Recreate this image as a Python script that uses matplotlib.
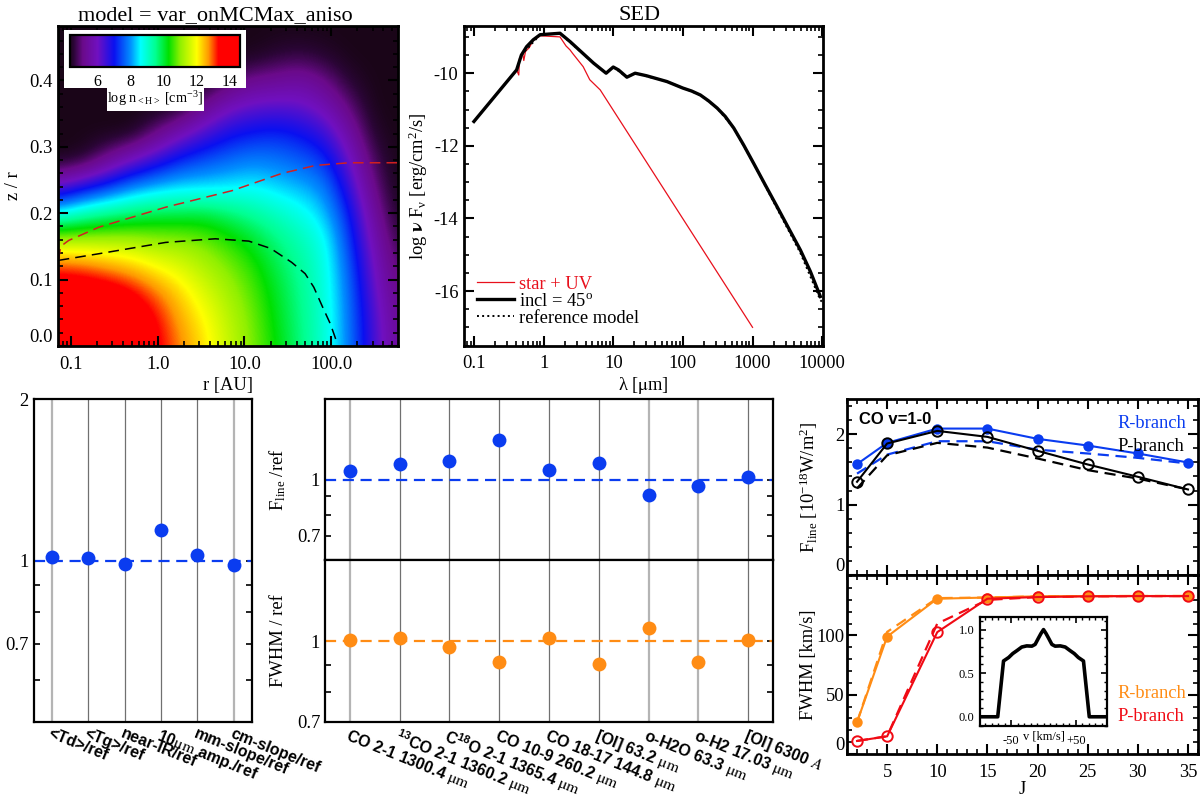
import numpy as np
import matplotlib
matplotlib.use('Agg')
import matplotlib.pyplot as plt
from matplotlib.colors import LinearSegmentedColormap, Normalize
from matplotlib.ticker import NullFormatter, MultipleLocator, LogLocator

plt.rcParams['font.family'] = ['Liberation Serif', 'DejaVu Serif']
plt.rcParams['mathtext.fontset'] = 'stix'
plt.rcParams['mathtext.default'] = 'regular'

W, H = 1200, 799

# density table (log n), rows = z/r from .00 to .48 in steps of .04,
# columns = log r from -1.15 to 2.77 in steps of .28
log_r_range = (-1.15, 2.77)
z_r_range = (0, 0.48)
log_n = [
    [14.8, 14.7, 14.6, 14.1, 13.5, 12.8, 12.2, 11.5, 10.9, 10.3, 9.6, 8.95, 7.85, 6.45, 5.3],
    [14.4, 14.3, 14.2, 13.9, 13.4, 12.6, 12.05, 11.4, 10.85, 10.2, 9.55, 8.95, 7.8, 6.4, 5.2],
    [14.0, 13.9, 13.8, 13.5, 12.9, 12.3, 11.7, 11.2, 10.7, 10.1, 9.5, 8.9, 7.75, 6.2, 5.05],
    [13.1, 13.0, 12.7, 12.4, 12.0, 11.7, 11.3, 10.9, 10.5, 9.9, 9.4, 8.85, 7.6, 6.0, 4.85],
    [11.2, 11.2, 11.2, 11.2, 11.0, 11.0, 10.8, 10.5, 10.1, 9.6, 9.2, 8.75, 7.35, 5.75, 4.6],
    [8.7, 9.2, 9.5, 9.7, 9.9, 9.9, 10.0, 9.7, 9.4, 9.1, 8.8, 8.3, 7.1, 5.4, 4.4],
    [6.1, 6.8, 7.3, 7.9, 8.2, 8.4, 8.4, 8.5, 8.6, 8.4, 8.2, 7.9, 6.6, 5.05, 4.3],
    [4.3, 4.4, 5.2, 6.0, 6.6, 7.2, 7.5, 7.7, 7.9, 7.8, 7.6, 7.3, 6.1, 4.75, 4.3],
    [4.3, 4.3, 4.3, 4.3, 5.0, 5.8, 6.4, 6.9, 7.1, 7.2, 7.0, 6.6, 5.55, 4.45, 4.3],
    [4.3, 4.3, 4.3, 4.3, 4.3, 4.4, 5.2, 5.9, 6.2, 6.3, 6.2, 5.8, 5.0, 4.3, 4.3],
    [4.3, 4.3, 4.3, 4.3, 4.3, 4.3, 4.3, 4.8, 5.2, 5.3, 5.5, 5.1, 4.5, 4.3, 4.3],
    [4.3, 4.3, 4.3, 4.3, 4.3, 4.3, 4.3, 4.3, 4.3, 4.5, 4.6, 4.45, 4.3, 4.3, 4.3],
    [4.3, 4.3, 4.3, 4.3, 4.3, 4.3, 4.3, 4.3, 4.3, 4.3, 4.3, 4.3, 4.3, 4.3, 4.3],
]
cmap_vals = [4.3, 4.55, 5.1, 6.0, 7.0, 8.0, 8.6, 9.5, 10.3, 11.0, 12.0, 12.7, 13.3, 14.6]
cmap_cols = ['#1a0518', '#2a0535', '#6a0a8a', '#7010c0', '#0a10f0', '#0090ff', '#00ffff',
             '#00ff90', '#00e000', '#90f000', '#ffff00', '#ff9900', '#ff0000', '#ff0000']

black_r = [0.072, 0.21, 1.23, 4.6, 11.2, 20, 35, 50, 63, 80, 98, 118]
black_z = [.129, .139, .156, .1615, .158, .147, .126, .109, .0885, .058, .033, .003]
red_r = [0.072, 0.076, 0.094, 0.21, 1.23, 7.2, 27, 66, 160, 590]
red_z = [.13, .15, .159, .179, .209, .234, .26, .272, .276, .276]

# SED
sed_lam = [0.1, 0.41, 0.48, 0.57, 0.71, 0.89, 1.72, 2.4, 5.2, 7.9, 10, 11.9, 15.7, 20.6, 30, 59, 100, 133, 178,
           233, 310, 405, 537, 741, 1035, 1524, 2240, 3296, 4860, 6761, 9400]
sed_val = [-11.33, -9.91, -9.5, -9.27, -9.08, -8.94, -8.9, -9.13, -9.72, -10, -9.83, -9.91, -10.11, -10, -10.07,
           -10.23, -10.41, -10.49, -10.6, -10.76, -10.96, -11.19, -11.51, -11.97, -12.48, -13.08, -13.67,
           -14.27, -14.87, -15.46, -16.15]
star_lam = [0.1, 0.41, 0.44, 0.45, 0.5, 0.52, 0.55, 0.62, 0.71, 0.89, 1.72, 2.1, 2.4, 2.6, 3.7, 4.6, 6.5, 1000]
star_val = [-11.33, -9.91, -10.05, -9.6, -9.45, -9.65, -9.4, -9.3, -9.1, -8.97, -9.0, -9.25, -9.36, -9.45,
            -9.82, -10.18, -10.46, -17.0]
ref_lam = [0.1, 0.41, 0.48, 0.89, 1.72, 5.2, 7.9, 10, 15.7, 20.6, 59, 178, 310, 537, 1035, 2240, 4860, 9400, 10000]
ref_val = [-11.33, -9.91, -9.5, -8.94, -8.9, -9.72, -10, -9.83, -10.11, -10, -10.23, -10.6, -10.96, -11.51, -12.48,
           -13.72, -14.95, -16.25, -16.3]

# ratio panels
sed_names = ['<Td>/ref', '<Tg>/ref', 'near-IR/ref', r'10$\mathrm{\mu m}$ amp./ref', 'mm-slope/ref', 'cm-slope/ref']
sed_ratio = [1.017, 1.012, 0.983, 1.141, 1.026, 0.98]
line_names = [r'CO 2-1 1300.4 $\mathrm{\mu m}$', r'$^{13}$CO 2-1 1360.2 $\mathrm{\mu m}$',
              r'C$^{18}$O 2-1 1365.4 $\mathrm{\mu m}$', r'CO 10-9 260.2 $\mathrm{\mu m}$',
              r'CO 18-17 144.8 $\mathrm{\mu m}$', r'[OI] 63.2 $\mathrm{\mu m}$',
              r'o-H2O 63.3 $\mathrm{\mu m}$', r'o-H2 17.03 $\mathrm{\mu m}$', r'[OI] 6300 $\mathit{A}$']
fline_ratio = [1.055, 1.103, 1.124, 1.285, 1.061, 1.112, 0.907, 0.960, 1.013]
fwhm_ratio = [1.007, 1.013, 0.975, 0.913, 1.012, 0.904, 1.061, 0.913, 1.004]

# CO ladder
J = [2, 5, 10, 15, 20, 25, 30, 35]
flux_R = [1.575, 1.877, 2.08, 2.08, 1.934, 1.839, 1.726, 1.598]
flux_P = [1.324, 1.868, 2.047, 1.962, 1.764, 1.57, 1.395, 1.215]
flux_R_ref = [1.44, 1.71, 1.90, 1.90, 1.78, 1.726, 1.664, 1.584]
flux_P_ref = [1.23, 1.70, 1.877, 1.81, 1.655, 1.49, 1.37, 1.215]
fwhm_R = [26.8, 99, 131, 132, 133, 133.2, 133.3, 133.3]
fwhm_P = [11, 14.9, 102.8, 131, 132.4, 133, 133.2, 133.2]
fwhm_R_ref = [26.8, 103, 131.5, 132, 133, 133.2, 133.3, 133.3]
fwhm_P_ref = [11, 15, 110, 130, 132.4, 133, 133.2, 133.2]

prof_v = [-98, -71, -62, -54, -47.7, -41, -33.7, -26, -18, -13, -8, -4, 0, 4, 8, 13, 18, 26, 33.7, 41, 47.7, 54, 62, 71, 98]
prof_f = [0, 0, .64, .68, .725, .76, .80, .813, .81, .83, .9, .954, 1.0, .954, .9, .83, .81, .813, .80, .76, .725, .68, .64, 0, 0]

BLUE = '#0a3cf0'
ORANGE = '#ff8c14'
RED = '#f00a14'
FS = 13.3


def px_axes(fig, l, t, r, b, **kw):
    return fig.add_axes([l / W, 1 - b / H, (r - l) / W, (b - t) / H], **kw)


def idl_ticks(ax, lw=2.0, ypad=4):
    for s in ax.spines.values():
        s.set_linewidth(lw)
    ax.tick_params(which='major', direction='in', top=True, right=True, length=7, width=1.5, labelsize=FS)
    ax.tick_params(which='minor', direction='in', top=True, right=True, length=3.5, width=1.2)
    ax.tick_params(axis='x', which='major', pad=7)
    ax.tick_params(axis='y', which='major', pad=ypad)


def ratio_ticks(ax, lw=1.6):
    for s in ax.spines.values():
        s.set_linewidth(lw)
    ax.set_yscale('log')
    ax.tick_params(which='both', direction='in', left=True, right=True, length=4, width=1.2, labelsize=FS)
    ax.xaxis.set_tick_params(length=0)
    ax.yaxis.set_major_formatter(NullFormatter())
    ax.yaxis.set_minor_formatter(NullFormatter())


def ratio_points(ax, vals, col, thick):
    xs = np.arange(1, len(vals) + 1)
    for x in xs:
        if x in thick:
            ax.axvline(x, color='#b4b4b4', lw=1.6, zorder=1)
        else:
            ax.axvline(x, color='#707070', lw=0.9, zorder=1)
    ax.axhline(1, color=col, lw=1.6, dashes=(5, 3), zorder=2)
    ax.plot(xs, vals, 'o', color=col, ms=10, mew=0, zorder=3)
    ax.set_xlim(0.5, len(vals) + 0.5)


def rot_labels(ax, names):
    ax.set_xticks(np.arange(1, len(names) + 1))
    ax.set_xticklabels(names, rotation=-22, ha='left', va='top', rotation_mode='anchor',
                       family=['Liberation Sans'], fontweight='bold', fontsize=11.5)
    ax.tick_params(axis='x', pad=3)


def main():
    fig = plt.figure(figsize=(W / 100, H / 100), dpi=100)

    # density panel, image goes on its own axes in log r so it can be smoothed
    img = px_axes(fig, 58, 26, 398, 346)
    cmap = LinearSegmentedColormap.from_list(
        'dens', [((v - 4.3) / (14.6 - 4.3), c) for v, c in zip(cmap_vals, cmap_cols)], N=512)
    norm = Normalize(4.3, 14.6)
    img.imshow(np.array(log_n), origin='lower', aspect='auto', cmap=cmap, norm=norm, interpolation='bicubic',
               extent=[log_r_range[0] - 0.14, log_r_range[1] + 0.14, z_r_range[0] - 0.02, z_r_range[1] + 0.02])
    img.set_xlim(-1.15, 2.77)
    img.set_ylim(0, 0.482)
    img.axis('off')

    ax = px_axes(fig, 58, 26, 398, 346, facecolor='none')
    ax.plot(red_r, red_z, color='#d02020', lw=1.1, dashes=(7, 4))
    ax.plot(black_r, black_z, color='k', lw=1.1, dashes=(7, 4))
    ax.set_xscale('log')
    ax.set_xlim(10 ** -1.15, 10 ** 2.77)
    ax.set_ylim(0, 0.482)
    ax.set_xticks([0.1, 1, 10, 100])
    ax.set_xticklabels(['0.1', '1.0', '10.0', '100.0'])
    ax.set_yticks([0, .1, .2, .3, .4])
    ax.set_yticklabels(['0.0', '0.1', '0.2', '0.3', '0.4'])
    ax.yaxis.set_minor_locator(MultipleLocator(0.02))
    ax.xaxis.set_minor_locator(LogLocator(10, subs=np.arange(2, 10) * 0.1, numticks=12))
    ax.xaxis.set_minor_formatter(NullFormatter())
    idl_ticks(ax)
    ax.get_yticklabels()[0].set_va('bottom')
    ax.set_xlabel('r [AU]', fontsize=FS, labelpad=3)
    ax.set_ylabel('z / r', fontsize=FS, labelpad=5)
    ax.set_title('model = var_onMCMax_aniso', fontsize=16, pad=4, x=(215 - 58) / 340)

    # white boxes behind the colour bar
    for box in [(64, 30, 246, 87.5), (107, 87, 203.5, 110.5)]:
        bg = px_axes(fig, *box, facecolor='white')
        bg.set_xticks([])
        bg.set_yticks([])
        for s in bg.spines.values():
            s.set_visible(False)
    cax = px_axes(fig, 69.5, 34.5, 240, 67)
    cb = fig.colorbar(plt.cm.ScalarMappable(norm=norm, cmap=cmap), cax=cax, orientation='horizontal',
                      ticks=[6, 8, 10, 12, 14])
    cb.outline.set_linewidth(1.6)
    cax.tick_params(length=0, labelsize=11.5, pad=5)
    fig.text(155 / W, 1 - 99 / H, r'log n$_{<H>}$ [cm$^{-3}$]', fontsize=10.3, ha='center', va='center')

    # SED panel
    ax = px_axes(fig, 464, 26, 822.5, 345.5)
    ax.plot(star_lam, star_val, color='#e8101c', lw=0.9, label='star + UV')
    ax.plot(sed_lam, sed_val, color='k', lw=2.4, label=r'incl = 45$^{o}$')
    ax.plot(ref_lam, ref_val, color='k', lw=1.4, ls=':', label='reference model')
    ax.set_xscale('log')
    ax.set_xlim(0.072, 10100)
    ax.set_ylim(-17.5, -8.7)
    ax.set_xticks([0.1, 1, 10, 100, 1000, 10000])
    ax.set_xticklabels(['0.1', '1', '10', '100', '1000', '10000'])
    ax.set_yticks([-10, -12, -14, -16])
    ax.set_yticklabels(['-10', '-12', '-14', '-16'])
    ax.yaxis.set_minor_locator(MultipleLocator(0.5))
    ax.xaxis.set_minor_locator(LogLocator(10, subs=np.arange(2, 10) * 0.1, numticks=12))
    ax.xaxis.set_minor_formatter(NullFormatter())
    idl_ticks(ax)
    ax.set_xlabel(r'$\lambda$ [$\mathrm{\mu}$m]', fontsize=FS, labelpad=2)
    ax.set_ylabel(r'log $\mathbf{\nu}$ F$_{\nu}$ [erg/cm$^{2}$/s]', fontsize=FS, labelpad=3)
    ax.set_title('SED', fontsize=16, pad=4, x=(640 - 464) / 358.5)
    ax.legend(loc='lower left', bbox_to_anchor=(0.0, 0.018), frameon=False, fontsize=FS, handlelength=2.0,
              labelcolor=['#e8101c', 'k', 'k'], labelspacing=0.0, handletextpad=0.3, borderaxespad=0.5, borderpad=0.2)

    # SED ratios
    ax = px_axes(fig, 33.5, 399, 252, 722)
    ratio_ticks(ax)
    ratio_points(ax, sed_ratio, BLUE, [1, 6])
    ax.set_ylim(0.5, 2)
    ax.set_yticks([2, 1, 0.7], ['2', '1', '0.7'])
    ax.set_yticks([0.9, 0.8, 0.6], minor=True)
    ax.yaxis.set_minor_formatter(NullFormatter())
    rot_labels(ax, sed_names)

    # line ratios
    ax = px_axes(fig, 325, 399, 773, 560)
    ratio_ticks(ax)
    ratio_points(ax, fline_ratio, BLUE, [1, 7, 8])
    ax.set_ylim(0.6, 1.667)
    ax.set_yticks([1, 0.7], ['1', '0.7'])
    ax.set_yticks([0.9, 0.8], minor=True)
    ax.yaxis.set_minor_formatter(NullFormatter())
    ax.set_xticks([])
    ax.set_ylabel(r'F$_{line}$ /ref', fontsize=FS, labelpad=6)

    ax = px_axes(fig, 325, 560, 773, 722)
    ratio_ticks(ax)
    ratio_points(ax, fwhm_ratio, ORANGE, [1, 7, 8])
    ax.set_ylim(0.7, 1.43)
    ax.set_yticks([1, 0.7], ['1', '0.7'])
    ax.set_yticks([0.9, 0.8], minor=True)
    ax.yaxis.set_minor_formatter(NullFormatter())
    ax.set_ylabel('FWHM / ref', fontsize=FS, labelpad=7)
    rot_labels(ax, line_names)

    # CO ladder, flux
    ax = px_axes(fig, 847, 399, 1198, 575)
    ax.plot(J, flux_R_ref, color=BLUE, lw=1.6, dashes=(5, 3))
    ax.plot(J, flux_P_ref, color='k', lw=1.6, dashes=(5, 3))
    ax.plot(J, flux_R, '-o', color=BLUE, lw=1.5, ms=7.5, mew=0)
    ax.plot(J, flux_P, '-o', color='k', lw=1.5, ms=7.5, mew=1.4, mfc='none')
    ax.set_xlim(1, 36)
    ax.set_ylim(0, 2.5)
    ax.set_xticks([5, 10, 15, 20, 25, 30, 35])
    ax.set_xticklabels([])
    ax.set_yticks([0, 1, 2])
    ax.xaxis.set_minor_locator(MultipleLocator(1))
    ax.yaxis.set_minor_locator(MultipleLocator(0.2))
    idl_ticks(ax, ypad=2)
    ax.get_yticklabels()[0].set_va('bottom')
    ax.set_ylabel(r'F$_{line}$ [10$^{-18}$W/m$^{2}$]', fontsize=FS, labelpad=11)
    ax.text(0.035, 0.885, 'CO v=1-0', transform=ax.transAxes, family=['Liberation Sans'], fontweight='bold',
            fontsize=12, va='center')
    ax.text(0.967, 0.86, 'R-branch', transform=ax.transAxes, color=BLUE, fontsize=FS, ha='right', va='center')
    ax.text(0.96, 0.73, 'P-branch', transform=ax.transAxes, color='k', fontsize=FS, ha='right', va='center')

    # CO ladder, FWHM
    ax = px_axes(fig, 847, 575, 1198, 754)
    ax.plot(J, fwhm_R_ref, color=ORANGE, lw=1.6, dashes=(5, 3))
    ax.plot(J, fwhm_P_ref, color=RED, lw=1.6, dashes=(5, 3))
    ax.plot(J, fwhm_R, '-o', color=ORANGE, lw=1.5, ms=7.5, mew=0)
    ax.plot(J, fwhm_P, '-o', color=RED, lw=1.5, ms=7.5, mew=1.4, mfc='none')
    ax.set_xlim(1, 36)
    ax.set_ylim(0, 151)
    ax.set_xticks([5, 10, 15, 20, 25, 30, 35])
    ax.set_yticks([0, 50, 100])
    ax.xaxis.set_minor_locator(MultipleLocator(1))
    ax.yaxis.set_minor_locator(MultipleLocator(10))
    idl_ticks(ax, ypad=2)
    ax.get_yticklabels()[0].set_va('bottom')
    ax.set_xlabel('J', fontsize=FS, labelpad=0.5)
    ax.set_ylabel('FWHM [km/s]', fontsize=FS, labelpad=-1)
    ax.text(0.967, 0.34, 'R-branch', transform=ax.transAxes, color=ORANGE, fontsize=FS, ha='right', va='center')
    ax.text(0.96, 0.21, 'P-branch', transform=ax.transAxes, color=RED, fontsize=FS, ha='right', va='center')

    # line profile inset
    ins = px_axes(fig, 980, 616.5, 1107, 725.5)
    ins.plot(prof_v, prof_f, color='k', lw=2.6)
    ins.set_xlim(-98.5, 98.5)
    ins.set_ylim(-0.1, 1.15)
    ins.set_xticks([-50, 50])
    ins.set_xticklabels(['-50', '+50'])
    ins.set_yticks([0, 0.5, 1])
    ins.set_yticklabels(['0.0', '0.5', '1.0'])
    ins.xaxis.set_minor_locator(MultipleLocator(10))
    ins.yaxis.set_minor_locator(MultipleLocator(0.1))
    idl_ticks(ins, lw=1.6)
    ins.tick_params(which='major', length=4, width=1.2, labelsize=9)
    ins.tick_params(which='minor', length=2.5, width=1.0)
    ins.tick_params(axis='x', which='major', pad=7)
    ins.set_xlabel('v [km/s]', fontsize=9, labelpad=-12)

    fig.savefig('out.png', dpi=100)
    plt.close(fig)


if __name__ == '__main__':
    main()
